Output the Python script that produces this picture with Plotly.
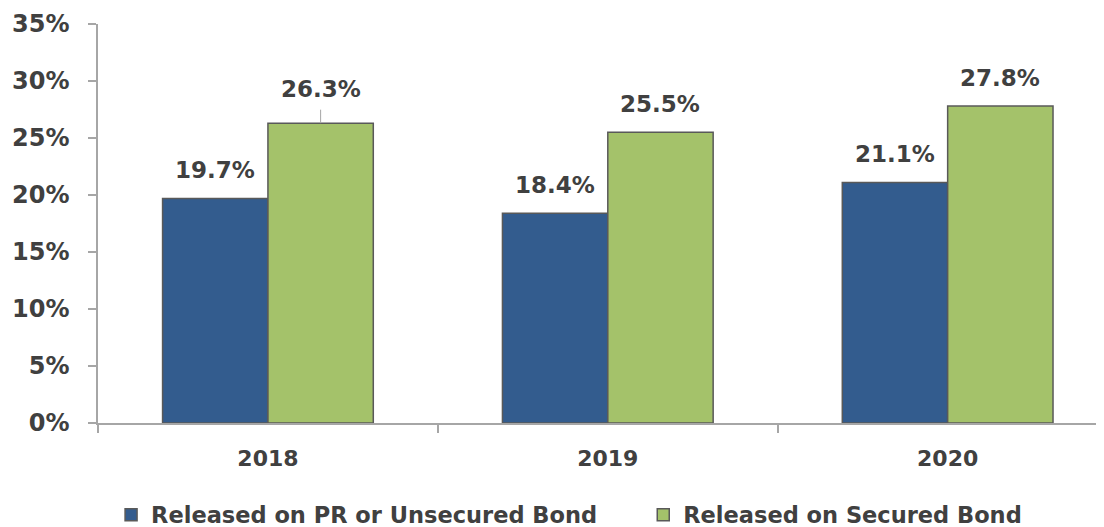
import plotly.graph_objects as go

years = ["2018", "2019", "2020"]
unsecured = [19.7, 18.4, 21.1]
secured = [26.3, 25.5, 27.8]
series_names = ["Released on PR or Unsecured Bond", "Released on Secured Bond"]
y_ticks = [0, 5, 10, 15, 20, 25, 30, 35]

BLUE = "#335C8E"
GREEN = "#A4C26A"
TXT = "#404040"
FONT = "DejaVu Sans"

fig = go.Figure()
fig.add_trace(go.Bar(x=years, y=unsecured, name=series_names[0], legend="legend",
                     marker=dict(color=BLUE, line=dict(color="#595959", width=1.5))))
fig.add_trace(go.Bar(x=years, y=secured, name=series_names[1], legend="legend2",
                     marker=dict(color=GREEN, line=dict(color="#595959", width=1.5))))

bargap = 0.38
bar_frac = (1 - bargap) / 2  # width of one bar in category units
lab_font = dict(family=FONT, size=23, color=TXT, weight="bold")

annotations = []
for i, yr in enumerate(years):
    annotations.append(dict(x=i - bar_frac / 2, y=unsecured[i], xref="x", yref="y",
                            text=f"{unsecured[i]:.1f}%", showarrow=False, yshift=28,
                            font=lab_font))
    if i == 0:
        annotations.append(dict(x=i + bar_frac / 2, y=secured[i], xref="x", yref="y",
                                text=f"{secured[i]:.1f}%", showarrow=True, arrowhead=0,
                                arrowwidth=1, arrowcolor="#A6A6A6", ax=0, ay=-34,
                                startstandoff=6, standoff=0, font=lab_font))
    else:
        annotations.append(dict(x=i + bar_frac / 2, y=secured[i], xref="x", yref="y",
                                text=f"{secured[i]:.1f}%", showarrow=False, yshift=28,
                                font=lab_font))

leg_font = dict(family=FONT, size=22.5, color=TXT, weight="bold")
fig.update_layout(
    width=1096, height=519,
    margin=dict(l=90, r=0, t=16, b=104, autoexpand=False),
    plot_bgcolor="white", paper_bgcolor="white",
    barmode="group", bargap=bargap, bargroupgap=0,
    font=dict(family=FONT, color=TXT),
    annotations=annotations,
    showlegend=True,
    legend=dict(orientation="h", x=0.013, xanchor="left", yref="container",
                y=0.023, yanchor="middle", font=leg_font, itemwidth=30),
    legend2=dict(orientation="h", x=0.542, xanchor="left", yref="container",
                 y=0.023, yanchor="middle", font=leg_font, itemwidth=30),
)
fig.update_xaxes(type="category", range=[-0.5, 2.46], showline=True, linecolor="#A6A6A6",
                 linewidth=1.5, ticks="outside", tickson="boundaries", ticklen=8,
                 tickcolor="#A6A6A6", tickwidth=1.5,
                 tickfont=dict(family=FONT, size=22, color=TXT, weight="bold"),
                 ticklabelstandoff=15)
fig.update_yaxes(range=[0, 35], tickvals=y_ticks, ticktext=[f"{v}%" for v in y_ticks],
                 showline=True, linecolor="#A6A6A6", linewidth=1.5, showgrid=False,
                 zeroline=False, ticks="outside", ticklen=8, tickcolor="#A6A6A6",
                 tickwidth=1.5, tickfont=dict(family=FONT, size=24, color=TXT, weight="bold"),
                 ticklabelstandoff=14)

fig.write_html("out.html")
